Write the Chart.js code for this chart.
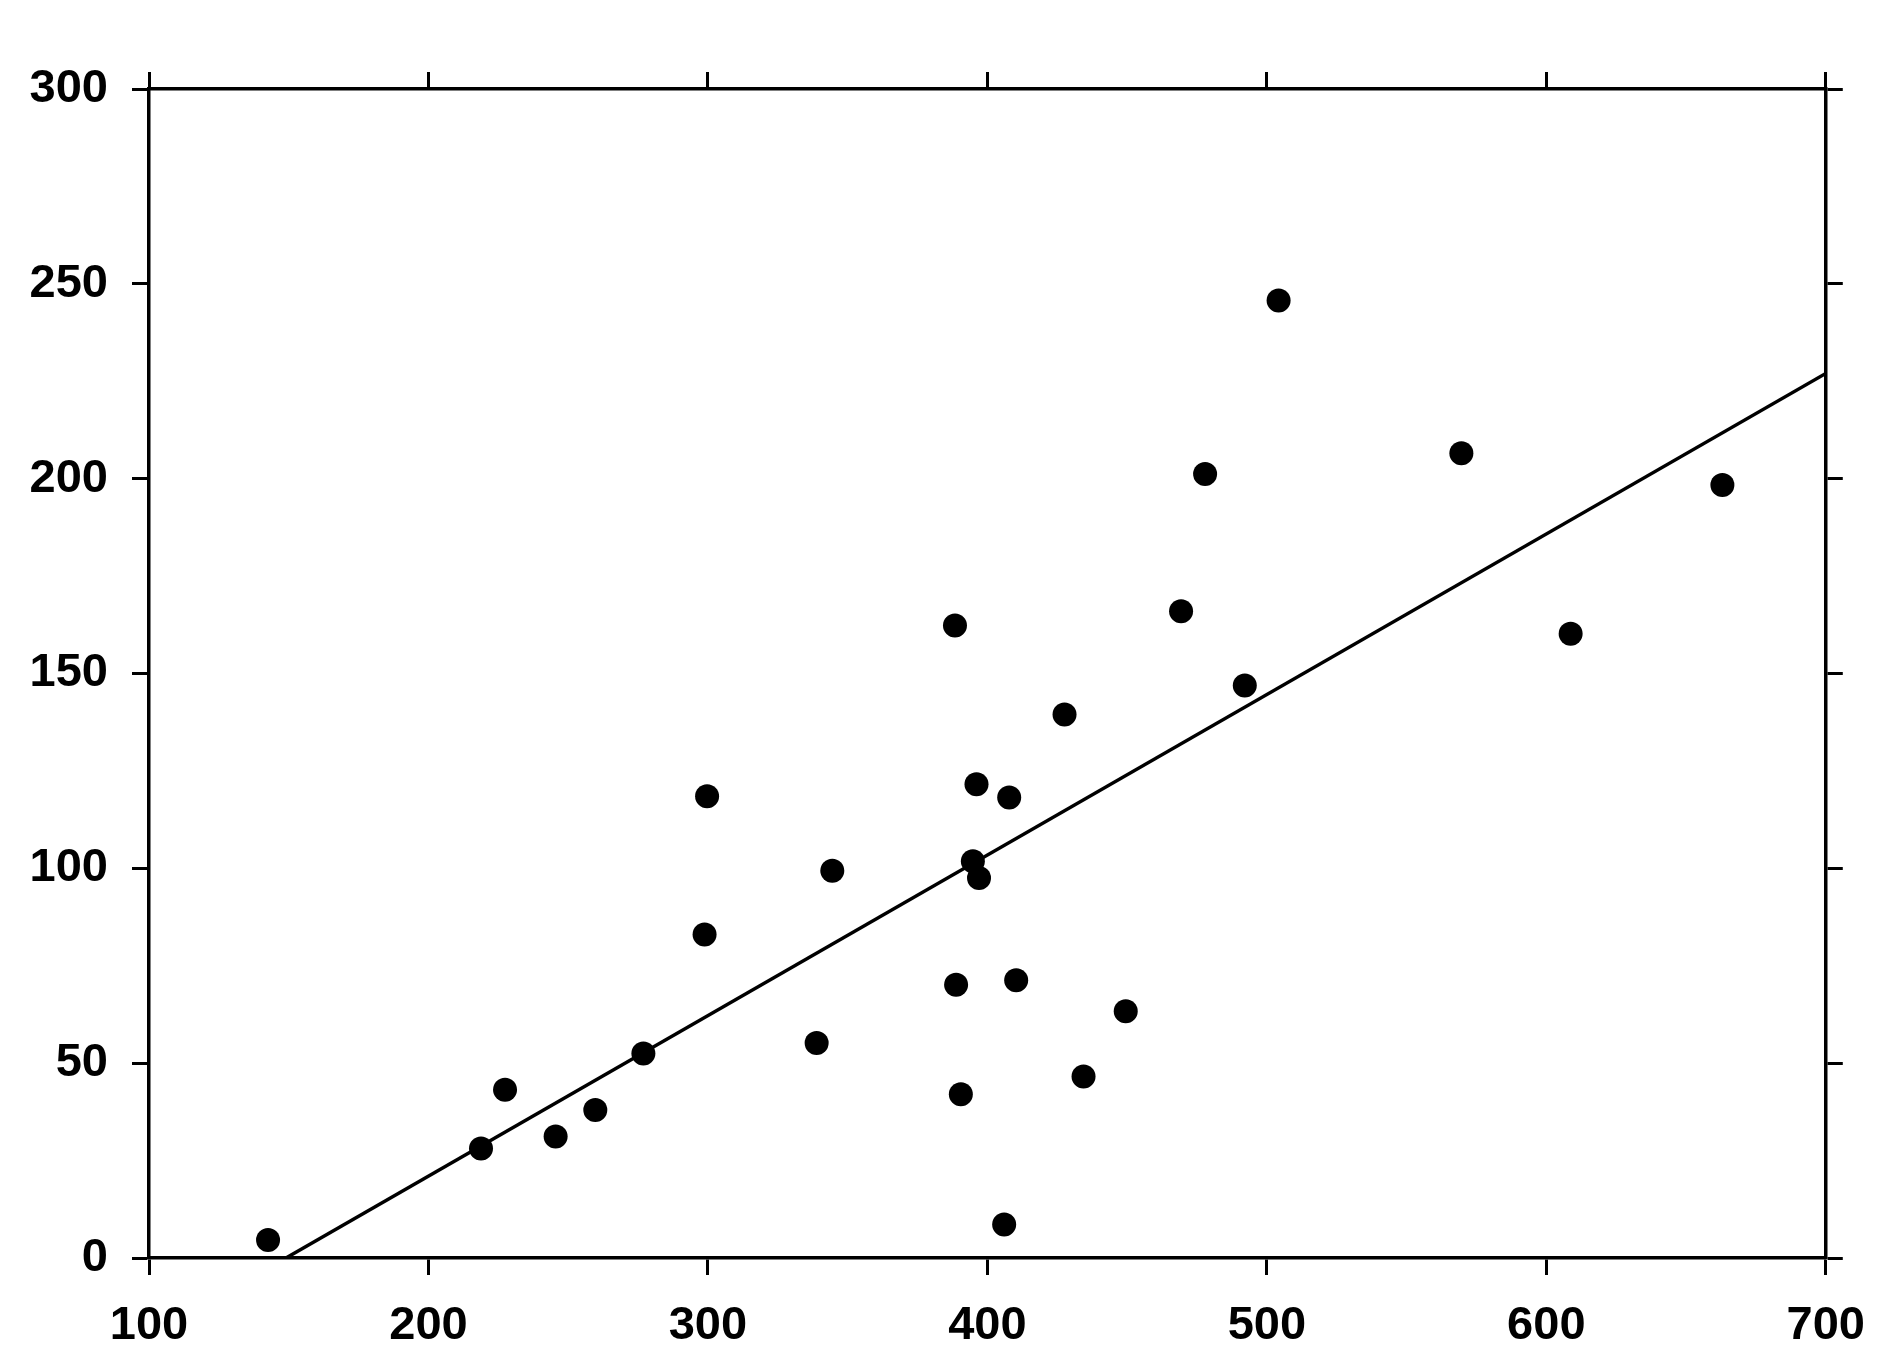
<!DOCTYPE html>
<html>
<head>
<meta charset="utf-8">
<script src="https://cdn.jsdelivr.net/npm/chart.js"></script>
<style>
  html, body { margin: 0; padding: 0; background: #fff; }
  canvas { display: block; }
</style>
</head>
<body>
<canvas id="chart" width="1888" height="1366"></canvas>
<script>
// Scatter points
const pointX = [142.6, 218.8, 227.4, 245.5, 259.7, 276.9, 298.8, 299.7, 338.9, 344.5,
                388.4, 388.8, 390.5, 394.8, 396.1, 397.0, 406.0, 407.8, 410.3, 427.6,
                434.4, 449.5, 469.3, 477.9, 492.1, 504.2, 569.6, 608.7, 663.0];
const pointY = [4.6, 28.1, 43.2, 31.2, 38.0, 52.5, 83.0, 118.5, 55.2, 99.4,
                162.3, 70.1, 42.0, 101.8, 121.6, 97.5, 8.6, 118.2, 71.3, 139.5,
                46.6, 63.3, 166.0, 201.2, 146.9, 245.7, 206.5, 160.2, 198.4];

// Fitted line end points
const lineX = [149, 700];
const lineY = [0, 227];

// Axis ranges / ticks
const xTicks = [100, 200, 300, 400, 500, 600, 700];
const yTicks = [0, 50, 100, 150, 200, 250, 300];

const ink = '#000';
const tickFont = { family: '"Liberation Sans", Arial, sans-serif', size: 47, weight: 'bold' };

function axis(position, ticks, showLabels, fitSize) {
    const horizontal = position === 'top' || position === 'bottom';
    return {
        type: 'linear',
        position: position,
        min: ticks[0],
        max: ticks[ticks.length - 1],
        afterBuildTicks: scale => { scale.ticks = ticks.map(v => ({ value: v })); },
        afterFit: scale => {
            if (horizontal) scale.height = fitSize; else scale.width = fitSize;
        },
        border: { display: true, color: ink, width: 3.5 },
        grid: { drawOnChartArea: false, drawTicks: true, tickLength: 17, tickWidth: 3, tickColor: ink },
        ticks: {
            display: showLabels,
            color: ink,
            font: tickFont,
            padding: horizontal ? 23 : 24,
            maxRotation: 0,
            autoSkip: false
        }
    };
}

new Chart(document.getElementById('chart'), {
    type: 'scatter',
    data: {
        datasets: [
            {
                data: pointX.map((x, i) => ({ x: x, y: pointY[i] })),
                backgroundColor: ink,
                borderColor: ink,
                pointRadius: 12,
                pointBorderWidth: 0,
                xAxisID: 'x',
                yAxisID: 'y'
            },
            {
                data: lineX.map((x, i) => ({ x: x, y: lineY[i] })),
                showLine: true,
                borderColor: ink,
                borderWidth: 3.5,
                pointRadius: 0,
                xAxisID: 'x',
                yAxisID: 'y'
            }
        ]
    },
    options: {
        responsive: false,
        devicePixelRatio: 1,
        animation: false,
        layout: { padding: 0 },
        plugins: { legend: { display: false }, tooltip: { enabled: false } },
        scales: {
            x: axis('bottom', xTicks, true, 108),
            x2: axis('top', xTicks, false, 89),
            y: axis('left', yTicks, true, 149),
            y2: axis('right', yTicks, false, 60)
        }
    }
});
</script>
</body>
</html>
